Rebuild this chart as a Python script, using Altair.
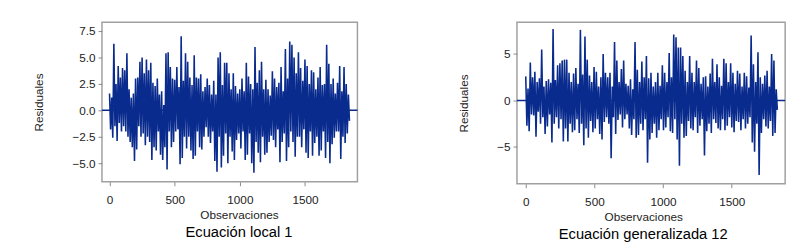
import altair as alt
import pandas as pd

left_resid = [
    1.6, -1.8, 1.2, -2.6, 6.3, -1.5,
    2.5, -2.9, 4.2, -1.2, 3.1, -2.0,
    4.0, -1.5, 3.8, -2.0, 5.4, -2.5,
    2.0, -3.0, 1.2, -3.5, 1.6, -4.8,
    3.0, -3.7, 3.1, -1.5, 4.6, -2.5,
    5.0, -2.2, 3.5, -3.3, 4.8, -2.5,
    3.8, -3.0, 4.5, -4.7, 2.6, -3.5,
    2.3, -3.8, 3.0, -2.0, 1.5, -4.2,
    1.8, -4.7, 0.5, -3.5, 5.4, -5.6,
    5.5, -2.0, 4.1, -3.5, 3.0, -3.0,
    2.9, -2.0, 4.1, -1.8, 2.2, -5.1,
    7.0, -4.5, 2.8, -2.5, 5.4, -3.6,
    4.6, -2.5, 3.1, -3.8, 2.4, -4.6,
    5.2, -4.3, 3.1, -2.0, 3.0, -3.5,
    3.4, -3.7, 1.8, -2.5, 2.2, -1.6,
    3.0, -2.5, 2.4, -3.1, 1.5, -2.0,
    2.8, -4.8, 1.5, -5.8, 5.0, -2.5,
    5.5, -5.4, 2.4, -4.3, 4.5, -2.2,
    4.5, -5.0, 3.5, -2.5, 2.0, -3.9,
    3.5, -4.7, 2.3, -2.8, 1.6, -2.2,
    2.0, -3.6, 3.0, -2.0, 1.8, -4.7,
    4.5, -4.2, 3.2, -2.2, 2.5, -5.0,
    2.0, -5.9, 6.0, -3.0, 2.6, -4.0,
    3.8, -4.9, 4.6, -2.5, 2.0, -4.2,
    2.9, -4.0, 2.0, -3.0, 1.4, -2.4,
    3.7, -2.8, 3.0, -3.5, 2.2, -1.8,
    2.6, -4.9, 4.1, -3.0, 1.8, -2.2,
    5.8, -4.8, 3.0, -3.5, 6.5, -2.0,
    6.2, -3.0, 5.0, -4.4, 3.5, -2.5,
    5.5, -2.5, 4.0, -3.5, 2.8, -1.8,
    4.8, -4.0, 4.2, -4.5, 2.5, -2.0,
    3.8, -4.3, 3.6, -3.1, 2.0, -2.5,
    3.1, -4.3, 4.1, -3.8, 2.4, -2.0,
    2.5, -4.5, 6.2, -3.0, 4.4, -5.0,
    2.5, -3.2, 3.0, -2.6, 1.6, -2.0,
    2.6, -2.0, 4.2, -4.6, 1.8, -2.5,
    4.1, -3.1, 2.5, -2.2, 1.5, -1.0,
]

right_resid = [
    2.6, -2.7, 1.3, -3.3, 4.1, -1.5,
    2.5, -1.6, 3.1, -3.9, 2.0, -1.2,
    2.4, -2.5, 5.5, -1.8, 1.5, -3.6,
    2.1, -2.8, 2.3, -1.5, 1.9, -4.5,
    7.7, -2.5, 2.2, -1.8, 3.8, -3.0,
    4.0, -2.0, 4.3, -4.4, 4.4, -3.0,
    4.4, -4.4, 3.0, -2.5, 2.0, -3.4,
    2.9, -3.2, 3.5, -2.0, 1.8, -3.5,
    7.6, -2.5, 2.8, -4.8, 6.9, -3.0,
    4.4, -4.0, 2.7, -2.2, 2.0, -3.4,
    3.6, -3.0, 3.1, -2.0, 1.5, -3.6,
    2.5, -4.2, 5.0, -2.3, 3.0, -1.8,
    2.5, -2.5, 3.0, -6.2, 1.5, -1.8,
    6.3, -3.6, 4.3, -2.1, 2.0, -1.5,
    3.4, -2.9, 4.3, -2.0, 1.8, -1.5,
    1.6, -3.0, 2.3, -3.7, 1.2, -2.0,
    6.3, -4.0, 3.3, -3.7, 2.0, -2.5,
    4.2, -3.2, 2.5, -2.0, 4.8, -6.7,
    2.4, -4.2, 3.0, -3.5, 1.5, -2.5,
    2.0, -4.0, 3.0, -3.2, 1.6, -2.0,
    3.8, -3.2, 3.0, -2.9, 2.0, -1.8,
    5.1, -3.3, 2.5, -3.5, 7.1, -2.0,
    6.8, -4.2, 5.7, -7.0, 5.7, -2.5,
    4.8, -4.0, 3.2, -3.8, 2.0, -2.2,
    4.8, -3.0, 3.0, -3.2, 2.0, -1.8,
    4.3, -3.5, 3.5, -2.7, 1.8, -2.0,
    2.5, -5.9, 2.6, -3.3, 1.5, -2.5,
    2.9, -3.5, 4.5, -2.0, 2.0, -2.4,
    3.9, -3.0, 2.5, -3.2, 1.6, -2.0,
    4.5, -3.2, 4.0, -2.7, 2.0, -1.8,
    4.0, -2.9, 3.0, -3.4, 1.8, -2.2,
    3.2, -2.3, 2.9, -3.2, 1.5, -2.0,
    3.0, -3.0, 2.6, -2.5, 1.4, -1.8,
    7.0, -4.5, 3.9, -5.5, 2.0, -2.5,
    5.2, -8.0, 2.5, -3.5, 1.8, -2.0,
    2.7, -2.8, 3.2, -3.0, 1.5, -2.2,
    5.0, -3.8, 4.3, -3.5, 1.2, -1.0,
]

left_step = 8.33   # observations per listed value
right_step = 8.29

titles = ["Ecuación local 1", "Ecuación generalizada 12"]
x_ticks = [0, 500, 1000, 1500]
left_y_ticks = [-5.0, -2.5, 0.0, 2.5, 5.0, 7.5]
right_y_ticks = [-5, 0, 5]

LINE = "#0a2b8e"
FONT = "Liberation Sans"


def panel(values, step, title, xdom, ydom, yticks, yfmt, w, h, title_x):
    df = pd.DataFrame({"obs": [i * step for i in range(len(values))], "res": values})
    yscale = alt.Scale(domain=ydom, nice=False, zero=False)
    yaxis = alt.Axis(values=yticks, title="Residuales", format=yfmt,
                     titleFontSize=12, titleFontWeight="normal", titlePadding=27,
                     labelFontSize=12, tickSize=4, labelPadding=3, grid=False,
                     domain=False, labelOverlap=False)
    x = alt.X("obs:Q", scale=alt.Scale(domain=xdom, nice=False, zero=False),
              axis=alt.Axis(values=x_ticks, title="Observaciones", titleX=title_x,
                            titleFontSize=12, titleFontWeight="normal", titlePadding=5,
                            labelFontSize=12, tickSize=4, labelPadding=9, grid=False,
                            domain=False, format="d"))
    line = alt.Chart(df).mark_line(color=LINE, strokeWidth=1.6, interpolate="linear").encode(
        x=x, y=alt.Y("res:Q", scale=yscale, axis=yaxis))
    zero = alt.Chart(pd.DataFrame({"z": [0]})).mark_rule(color=LINE, strokeWidth=1.5).encode(
        y=alt.Y("z:Q", scale=yscale, axis=yaxis))
    return alt.layer(line, zero).properties(
        width=w, height=h,
        title=alt.TitleParams(title, orient="bottom", fontSize=15, fontWeight="normal",
                              font=FONT, color="black", offset=4, anchor="middle",
                              dx=title_x - w / 2),
    )


left = panel(left_resid, left_step, titles[0], [-58, 1902], [-6.76, 8.33],
             left_y_ticks, ".1f", 261, 163, 140)
right = panel(right_resid, right_step, titles[1], [-64, 1889], [-8.95, 8.42],
              right_y_ticks, "d", 274, 165, 129)

chart = alt.hconcat(left, right, spacing=99).properties(
    padding={"left": 24, "top": 11, "right": 5, "bottom": 0},
    background="white",
).configure_view(stroke="#a0a0a0", strokeWidth=1.5).configure_axis(
    labelFont=FONT, titleFont=FONT, labelColor="#222222", titleColor="#222222",
    tickColor="#888888",
)

chart.save("out.html", embed_options={"renderer": "svg", "actions": False})
